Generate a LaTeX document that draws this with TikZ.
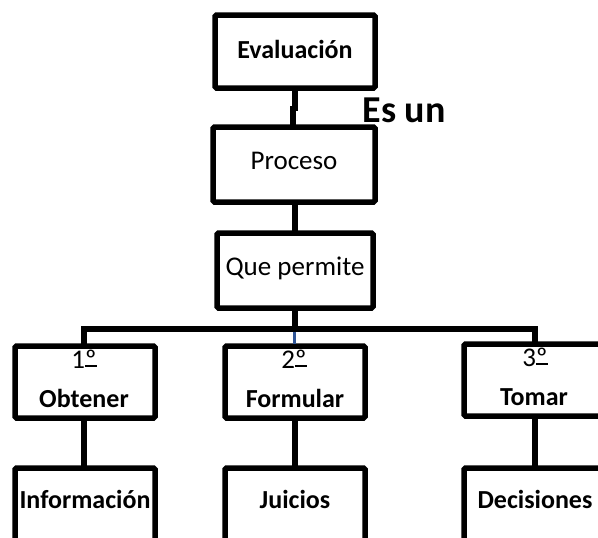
\documentclass[tikz,border=0pt]{standalone}
\usepackage{fontspec}
\setmainfont{Carlito}
\newcommand{\ordmark}{\leavevmode\setbox0\hbox{º}\rlap{\raisebox{0.04em}{\rule{\wd0}{0.07em}}}\box0}
\begin{document}
\begin{tikzpicture}[x=1pt,y=-1pt,
  boxstyle/.style={draw=black,line width=5.5pt,rounded corners=1.5pt},
  linkstyle/.style={draw=black,line width=5.5pt},
  bluelink/.style={draw={rgb,255:red,47;green,85;blue,151},line width=3pt},
  txt/.style={inner sep=0pt,font=\fontsize{27}{31}\selectfont},
  btxt/.style={inner sep=0pt,font=\fontsize{26}{30}\selectfont\bfseries},
  estxt/.style={inner sep=0pt,font=\fontsize{38}{44}\selectfont\bfseries}]
\useasboundingbox (0,0) rectangle (598,538);
\clip (0,0) rectangle (598,538);
% boxes
\draw[boxstyle] (215,15) rectangle (375,88);
\draw[boxstyle] (213,127) rectangle (375,202);
\draw[boxstyle] (217,233) rectangle (373,308);
\draw[boxstyle] (15,346) rectangle (155,418);
\draw[boxstyle] (225,346) rectangle (365,418);
\draw[boxstyle] (464,344) rectangle (606,416);
\draw[boxstyle] (15,468) rectangle (155,560);
\draw[boxstyle] (225,468) rectangle (365,560);
\draw[boxstyle] (464,468) rectangle (606,560);
% anchor coordinates
\coordinate (evalS) at (295,88);
\coordinate (procN) at (293,127);
\coordinate (procS) at (295,202);
\coordinate (queN) at (295,233);
\coordinate (queS) at (295,308);
\coordinate (barM) at (295,329);
\coordinate (bOneN) at (84,346);
\coordinate (bTwoN) at (294,344);
\coordinate (bThreeN) at (535,344);
\coordinate (bOneS) at (84,418);
\coordinate (bTwoS) at (295,418);
\coordinate (bThreeS) at (535,416);
\coordinate (cOneN) at (84,468);
\coordinate (cTwoN) at (295,468);
\coordinate (cThreeN) at (535,468);
% connectors
\draw[linkstyle] (evalS) -- (295,111) (293,106) -- (procN);
\draw[linkstyle] (procS) -- (queN);
\draw[linkstyle] (queS) -- (barM);
\draw[linkstyle] (bOneN) |- (barM) -| (bThreeN);
\draw[bluelink] (294,332) -- (bTwoN);
\draw[linkstyle] (bOneS) -- (cOneN);
\draw[linkstyle] (bTwoS) -- (cTwoN);
\draw[linkstyle] (bThreeS) -- (cThreeN);
% texts
\node[btxt] (tEval) at (295,49) {Evaluación};
\node[estxt] (tEs) at (404,110) {Es un};
\node[txt] (tProc) at (294,161) {Proceso};
\node[txt] (tQue) at (295,268) {Que permite};
\node[txt] (tOne) at (84,359) {1\ordmark};
\node[btxt] (tObt) at (84,398) {Obtener};
\node[txt] (tTwo) at (294,359) {2\ordmark};
\node[btxt] (tFor) at (295,398) {Formular};
\node[txt] (tThree) at (535,357) {3\ordmark};
\node[btxt] (tTom) at (534,397) {Tomar};
\node[btxt] (tInf) at (85,499) {Información};
\node[btxt] (tJui) at (295,499) {Juicios};
\node[btxt] (tDec) at (535,499) {Decisiones};
\end{tikzpicture}
\end{document}
